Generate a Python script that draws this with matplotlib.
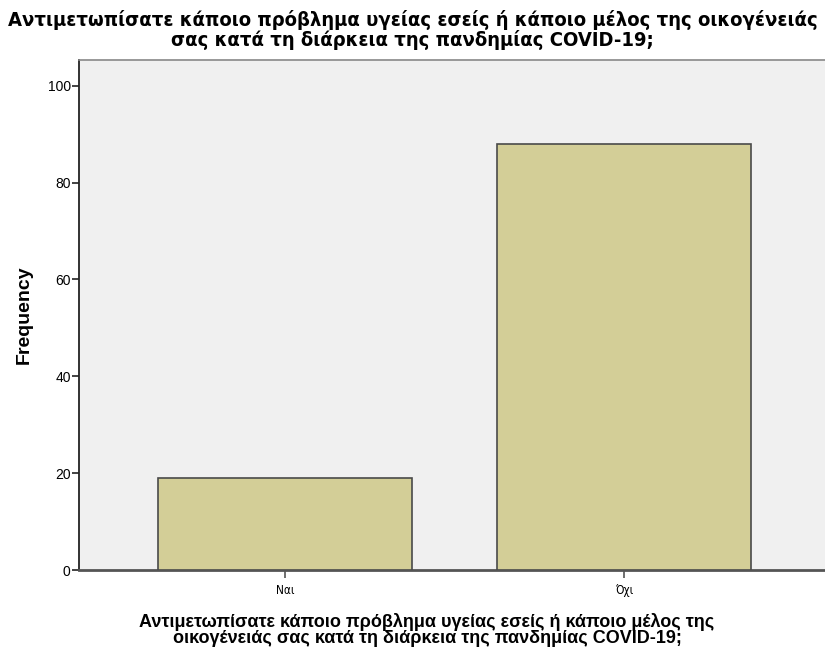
import matplotlib
matplotlib.use("Agg")
import matplotlib.pyplot as plt

categories = ["Ναι", "Όχι"]
frequencies = [19, 88]
yticks = [0, 20, 40, 60, 80, 100]
title = "Αντιμετωπίσατε κάποιο πρόβλημα υγείας εσείς ή κάποιο μέλος της οικογένειάς\nσας κατά τη διάρκεια της πανδημίας COVID-19;"
xlabel = "Αντιμετωπίσατε κάποιο πρόβλημα υγείας εσείς ή κάποιο μέλος της\nοικογένειάς σας κατά τη διάρκεια της πανδημίας COVID-19;"

fig = plt.figure(figsize=(8.25, 6.5), dpi=100)
ax = fig.add_axes([79/825, 80/650, 1 - 79/825, 510/650])
ax.set_facecolor("#F0F0F0")

x = list(range(len(categories)))
ax.bar(x, frequencies, width=0.75, color="#D3CE97", edgecolor="#4A4A4A", linewidth=1.2, zorder=3)

ax.set_xlim(-0.607, 1.593)
ax.set_ylim(0, 105.3)
ax.set_yticks(yticks)
ax.set_yticklabels([str(t) for t in yticks], fontsize=10, family="Liberation Sans")
ax.set_xticks(x)
ax.set_xticklabels(categories, fontsize=8.5, family="DejaVu Sans", fontstretch="condensed")
ax.tick_params(axis="y", length=5, width=1.2, color="#222222", pad=1)
ax.tick_params(axis="x", length=6, width=1.2, color="#555555", pad=4)

ax.spines["left"].set_color("#222222")
ax.spines["left"].set_linewidth(1.3)
ax.spines["bottom"].set_color("#555555")
ax.spines["bottom"].set_linewidth(2)
ax.spines["top"].set_color("#888888")
ax.spines["top"].set_linewidth(1.2)
ax.spines["right"].set_visible(False)

ax.set_ylabel("Frequency", fontsize=14, fontweight="bold", family="Liberation Sans")
ax.yaxis.set_label_coords(-0.062, 0.5)
ax.set_xlabel(xlabel, fontsize=13, fontweight="bold", family="Liberation Sans", linespacing=0.95)
ax.xaxis.set_label_coords((427 - 79) / 746, -0.084)
ax.xaxis.label.set_va("top")
fig.text(0.5, 0.984, title, ha="center", va="top", fontsize=14.5, fontweight="bold",
         family="DejaVu Sans", fontstretch="condensed", linespacing=0.95)

fig.savefig("out.png", dpi=100)
